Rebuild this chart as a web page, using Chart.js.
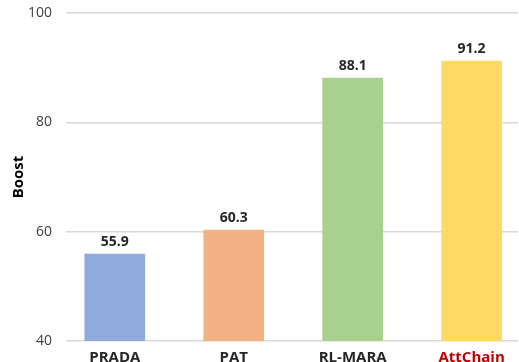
<!DOCTYPE html>
<html>
<head>
<meta charset="utf-8">
<script src="https://cdn.jsdelivr.net/npm/chart.js@4/dist/chart.umd.min.js"></script>
<style>
  html, body { margin: 0; padding: 0; background: #fff; }
  #wrap { width: 519px; height: 362px; position: relative; }
</style>
</head>
<body>
<div id="wrap"><canvas id="chart"></canvas></div>
<script>
const methods = ['PRADA', 'PAT', 'RL-MARA', 'AttChain'];
const boost = [55.9, 60.3, 88.1, 91.2];
const barColors = ['#8faadc', '#f4b183', '#a9d18e', '#ffd966'];
const yTicks = [40, 60, 80, 100];

const fontFamily = '"Open Sans", Lato, "DejaVu Sans", sans-serif';

// value on top of each bar
const valueLabels = {
    id: 'valueLabels',
    afterDatasetsDraw(chart) {
        const ctx = chart.ctx;
        const meta = chart.getDatasetMeta(0);
        ctx.save();
        ctx.font = 'bold 14px ' + fontFamily;
        ctx.fillStyle = '#262626';
        ctx.textAlign = 'center';
        ctx.textBaseline = 'bottom';
        meta.data.forEach((bar, i) => {
            ctx.fillText(boost[i].toFixed(1), bar.x, bar.y - 5);
        });
        ctx.restore();
    }
};

new Chart(document.getElementById('chart'), {
    type: 'bar',
    data: {
        datasets: [{
            data: boost.map((v, i) => ({ x: i, y: v })),
            backgroundColor: barColors,
            barThickness: 60
        }]
    },
    options: {
        responsive: true,
        maintainAspectRatio: false,
        animation: false,
        layout: { padding: { top: 13, right: 1, left: 0, bottom: 0 } },
        plugins: { legend: { display: false }, tooltip: { enabled: false } },
        scales: {
            x: {
                type: 'linear',
                offset: false,
                min: -0.41,
                max: 3.39,
                grid: { display: false },
                border: { display: false },
                afterBuildTicks: scale => { scale.ticks = methods.map((m, i) => ({ value: i })); },
                afterFit: scale => { scale.height = 21; },
                ticks: {
                    padding: 0,
                    maxRotation: 0,
                    autoSkip: false,
                    font: { family: fontFamily, size: 15, weight: 'bold' },
                    color: ctx => methods[ctx.tick.value] === 'AttChain' ? '#c00000' : '#262626',
                    callback: v => methods[v]
                }
            },
            y: {
                min: 40,
                max: 100,
                afterBuildTicks: scale => { scale.ticks = yTicks.map(v => ({ value: v })); },
                afterFit: scale => {
                    scale.width = 66;
                    scale.paddingTop = 0;
                    scale.paddingBottom = 0;
                },
                grid: { color: '#d9d9d9', lineWidth: 1.5, drawTicks: false },
                border: { display: false },
                ticks: {
                    padding: 14,
                    font: { family: fontFamily, size: 14 },
                    color: '#404040'
                },
                title: {
                    display: true,
                    text: 'Boost',
                    font: { family: fontFamily, size: 15, weight: 'bold' },
                    color: '#000',
                    padding: { top: 10, bottom: 6 }
                }
            }
        }
    },
    plugins: [valueLabels]
});
</script>
</body>
</html>
